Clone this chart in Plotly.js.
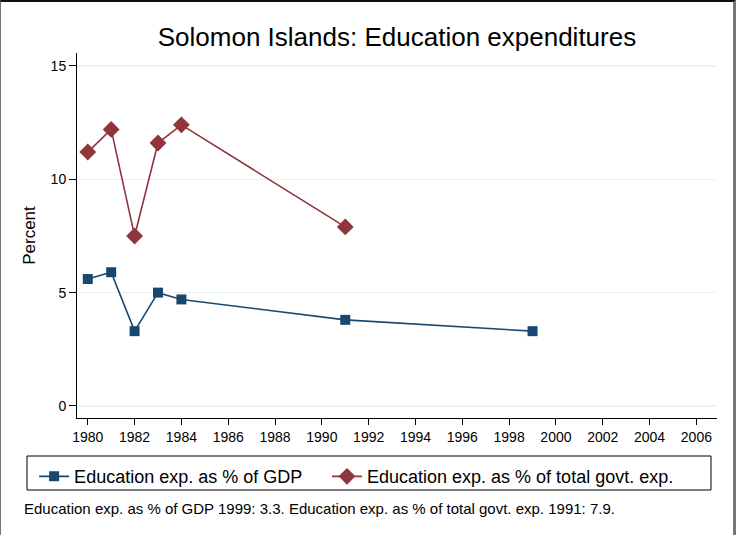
<!DOCTYPE html>
<html>
<head>
<meta charset="utf-8">
<script src="https://cdn.plot.ly/plotly-3.0.1.min.js"></script>
<style>
  html, body { margin: 0; padding: 0; background: #fff; }
  #wrap { position: relative; width: 736px; height: 535px; }
  #chart { width: 736px; height: 535px; }
  #frame { position: absolute; left: 0; top: 0; width: 736px; height: 535px; box-sizing: border-box;
           border-top: 2px solid #111; border-left: 1px solid #777; border-right: 3px solid #777; pointer-events: none; }
</style>
</head>
<body>
<div id="wrap"><div id="chart"></div><div id="frame"></div></div>
<script>
const yearsGDP = [1980, 1981, 1982, 1983, 1984, 1991, 1999];
const eduGDP = [5.6, 5.9, 3.3, 5.0, 4.7, 3.8, 3.3];
const yearsGov = [1980, 1981, 1982, 1983, 1984, 1991];
const eduGov = [11.2, 12.2, 7.5, 11.6, 12.4, 7.9];
const xTicks = [1980, 1982, 1984, 1986, 1988, 1990, 1992, 1994, 1996, 1998, 2000, 2002, 2004, 2006];
const yTicks = [0, 5, 10, 15];
const seriesNames = ["Education exp. as % of GDP", "Education exp. as % of total govt. exp."];
const titleText = "Solomon Islands: Education expenditures";
const noteText = "Education exp. as % of GDP 1999: 3.3. Education exp. as % of total govt. exp. 1991: 7.9.";

const FONT = "Liberation Sans, Arial, sans-serif";
const traces = [
  { x: yearsGDP, y: eduGDP, name: seriesNames[0], type: "scatter", mode: "lines+markers",
    legend: "legend",
    line: { color: "#1a476f", width: 1.6 },
    marker: { symbol: "square", size: 10, color: "#1a476f", line: { width: 0 } } },
  { x: yearsGov, y: eduGov, name: seriesNames[1], type: "scatter", mode: "lines+markers",
    legend: "legend2",
    line: { color: "#90353b", width: 1.6 },
    marker: { symbol: "diamond", size: 13, color: "#90353b", line: { width: 0 } } }
];

const legendBase = { orientation: "h", xanchor: "left", y: -0.11, yanchor: "top",
                     bgcolor: "rgba(0,0,0,0)", borderwidth: 0, font: { size: 18 } };

const layout = {
  width: 736, height: 535,
  margin: { l: 77, r: 19, t: 53, b: 117 },
  paper_bgcolor: "#ffffff", plot_bgcolor: "#ffffff",
  font: { family: FONT, color: "#000" },
  title: { text: titleText, x: 0.5, xref: "paper", y: 1 - 37 / 535, yanchor: "middle",
           font: { size: 26, family: FONT, color: "#000" } },
  xaxis: { range: [1979.54, 2006.88], tickvals: xTicks, ticktext: xTicks.map(String),
           showgrid: false, zeroline: false, showline: true, linecolor: "#000", linewidth: 1,
           ticks: "outside", ticklen: 6, tickcolor: "#000", tickfont: { size: 14 } },
  yaxis: { range: [-0.53, 15.57], tickvals: yTicks, ticktext: yTicks.map(String),
           showgrid: true, gridcolor: "#eaf2f3", gridwidth: 1.5, zeroline: false,
           showline: true, linecolor: "#000", linewidth: 1,
           ticks: "outside", ticklen: 7, tickcolor: "#000", tickfont: { size: 14 },
           title: { text: "Percent", font: { size: 17 }, standoff: 10 } },
  showlegend: true,
  legend: Object.assign({}, legendBase, { x: -0.067 }),
  legend2: Object.assign({}, legendBase, { x: (327 - 77) / 640 }),
  shapes: [
    { type: "rect", xref: "paper", yref: "paper",
      x0: (27 - 77) / 640, x1: (711 - 77) / 640, y0: (418 - 490) / 365, y1: (418 - 456) / 365,
      line: { color: "#000", width: 1 }, fillcolor: "rgba(0,0,0,0)" }
  ],
  annotations: [
    { text: noteText, xref: "paper", yref: "paper", x: (22 - 77) / 640, y: (418 - 508) / 365,
      xanchor: "left", yanchor: "middle", showarrow: false, font: { size: 15 } }
  ]
};

Plotly.newPlot("chart", traces, layout, { displayModeBar: false, staticPlot: true });
</script>
</body>
</html>
